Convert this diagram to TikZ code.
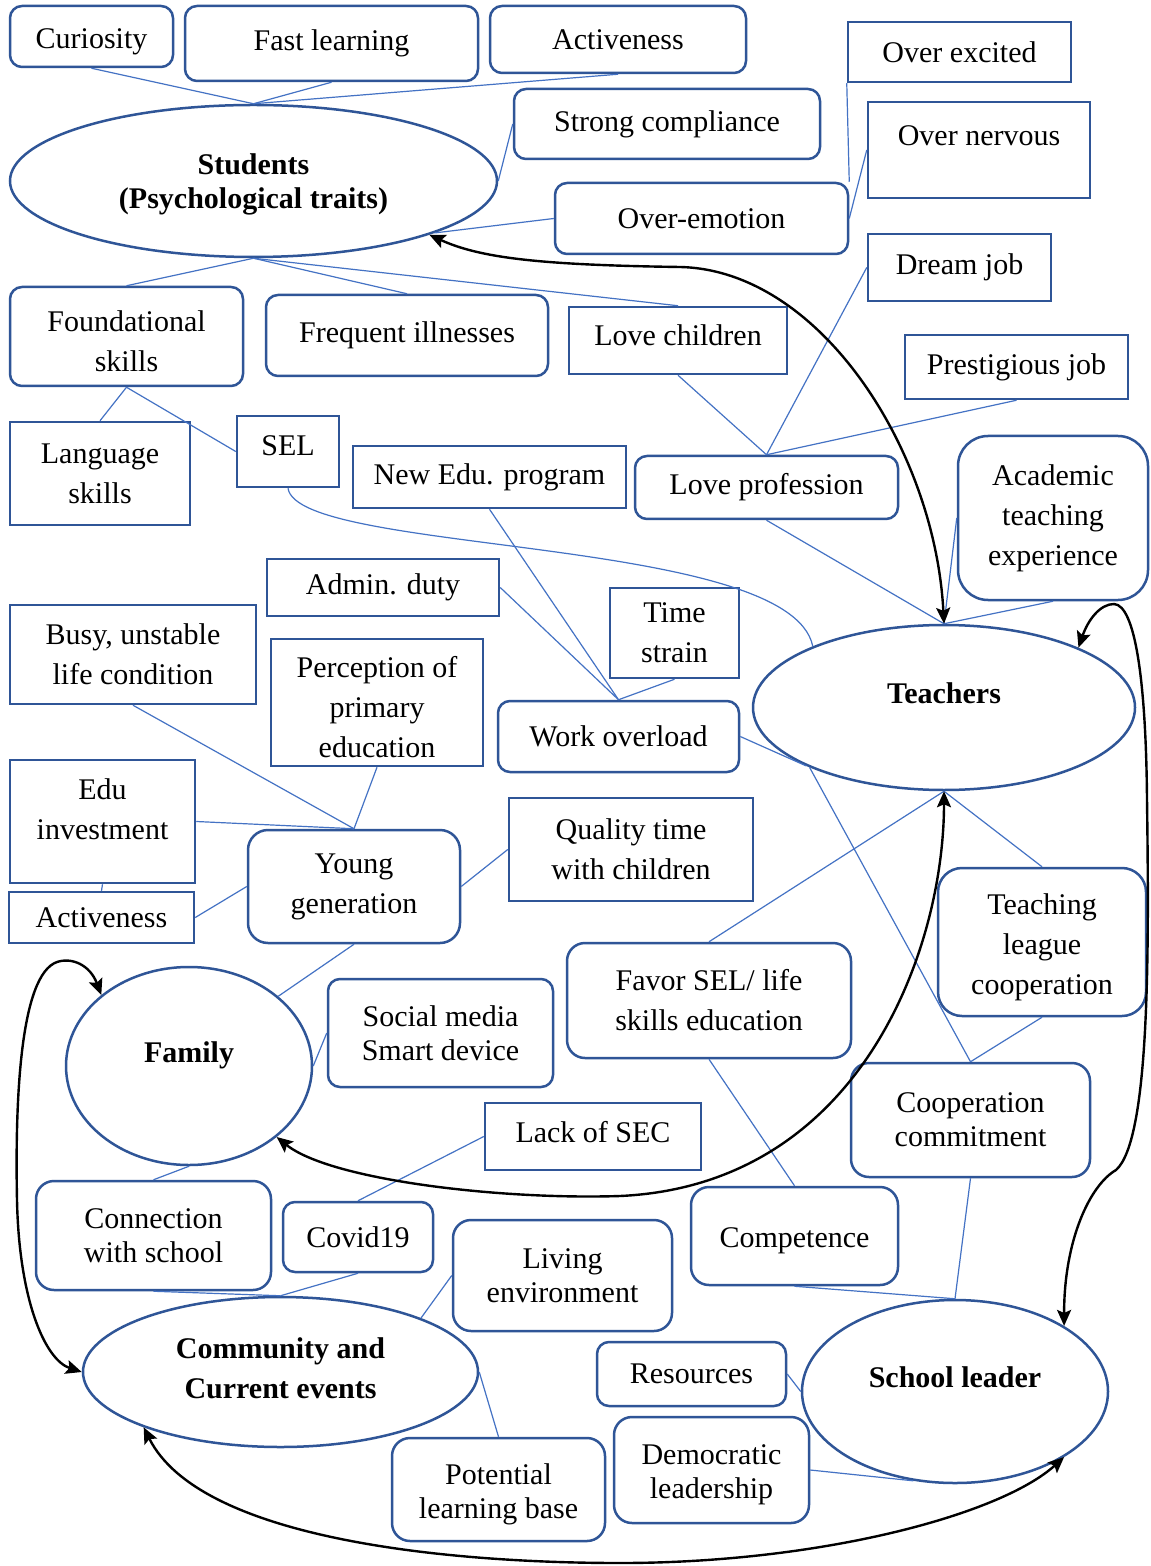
\documentclass[tikz,border=0pt]{standalone}
\usepackage{fontspec}
\setmainfont{Liberation Serif}
\usetikzlibrary{shapes.geometric,arrows.meta}
\definecolor{boxblue}{HTML}{2F5597}
\definecolor{linkblue}{HTML}{4472C4}

% invisible struts that push a label down (taller first line) or up (deeper last line)
\newcommand\padtop[1]{\rule{0pt}{#1}}
\newcommand\padbot[1]{\rule[-#1]{0pt}{#1}}

\tikzset{
  % place a node by its corner coordinates (x1,y1) (x2,y2), 1 unit = 0.5pt
  boxat/.style n args={4}{at={({(#1+#3)/2},{(#2+#4)/2})},
    minimum width={(#3-#1)*0.5pt}, minimum height={(#4-#2)*0.5pt}},
  boxbase/.style={draw=boxblue, line width=1.25pt, inner sep=0pt, align=center,
    font=\fontsize{15}{20}\selectfont},
  sqbox/.style={boxbase},
  rbox/.style={boxbase, rounded corners=6pt},
  tightlines/.style={font=\fontsize{15}{17}\selectfont},
  hub/.style={draw=boxblue, line width=1.25pt, ellipse, inner sep=0pt, align=center,
    font=\fontsize{15}{20}\selectfont\bfseries},
  link/.style={draw=linkblue, line width=0.6pt},
  tie/.style={draw=black, line width=1.2pt,
    arrows={Stealth[length=8pt,width=7pt,inset=1.5pt]-Stealth[length=8pt,width=7pt,inset=1.5pt]}}
}

\begin{document}
\begin{tikzpicture}[x=0.5pt,y=-0.5pt]
\fill[white] (0,0) rectangle (1150,1566);
\useasboundingbox (0,0) rectangle (1150,1566);

% ---------- central actors ----------
\node[hub, boxat={10}{105}{497}{257},
      font=\fontsize{15}{17}\selectfont\bfseries] (students) {\padtop{14pt}Students\\(Psychological traits)};
\node[hub, boxat={753}{625}{1135}{790}, text depth=14pt] (teachers) {Teachers};
\node[hub, boxat={66}{967}{312}{1165}, text depth=14.3pt] (family) {Family};
\node[hub, boxat={83}{1297}{478}{1447}] (community) {Community and\\Current events\padbot{4pt}};
\node[hub, boxat={802}{1300}{1108}{1483}, text depth=14pt] (leader) {School leader};

% ---------- student traits ----------
\node[rbox, boxat={10}{6}{173}{67}] (curiosity) {\padtop{15pt}Curiosity};
\node[rbox, boxat={185}{6}{478}{81}] (fastlearn) {Fast learning};
\node[rbox, boxat={490}{6}{746}{73}] (activetop) {Activeness};
\node[sqbox, boxat={848}{22}{1071}{82}] (overexcited) {Over excited};
\node[rbox, boxat={514}{89}{820}{159}] (compliance) {Strong compliance};
\node[sqbox, boxat={868}{102}{1090}{198}, text depth=14pt] (overnervous) {Over nervous};
\node[rbox, boxat={555}{183}{848}{254}] (overemotion) {Over-emotion};
\node[rbox, boxat={10}{287}{243}{386}] (foundation) {\padtop{15pt}Foundational\\skills};
\node[rbox, boxat={266}{295}{548}{376}] (illness) {Frequent illnesses};
\node[sqbox, boxat={10}{422}{190}{525}] (language) {Language\\skills};
\node[sqbox, boxat={237}{416}{339}{487}, text depth=6pt] (sel) {SEL};

% ---------- teacher factors ----------
\node[sqbox, boxat={868}{234}{1051}{301}] (dreamjob) {Dream job};
\node[sqbox, boxat={569}{307}{787}{374}, text depth=5pt] (lovechild) {Love children};
\node[sqbox, boxat={905}{335}{1128}{399}] (prestige) {Prestigious job};
\node[sqbox, boxat={353}{446}{626}{508}] (newedu) {New Edu. program};
\node[rbox, boxat={635}{456}{898}{519}] (loveprof) {Love profession};
\node[rbox, rounded corners=15pt, boxat={958}{436}{1148}{600}] (academic) {Academic\\teaching\\experience};
\node[sqbox, boxat={267}{559}{499}{616}] (admin) {Admin. duty};
\node[sqbox, boxat={610}{588}{739}{678}] (timestrain) {Time\\strain};
\node[rbox, boxat={498}{701}{739}{772}] (overload) {Work overload};
\node[rbox, rounded corners=12pt, boxat={938}{868}{1146}{1016}] (league) {\padtop{16pt}Teaching\\league\\cooperation};
\node[rbox, rounded corners=9pt, boxat={567}{943}{851}{1058}] (favor) {Favor SEL/ life\\skills education};
\node[rbox, rounded corners=9pt, tightlines, boxat={851}{1063}{1090}{1177}] (commit) {Cooperation\\commitment};

% ---------- family factors ----------
\node[sqbox, boxat={10}{605}{256}{704}] (busy) {Busy, unstable\\life condition};
\node[sqbox, boxat={271}{639}{483}{766}] (perception) {\padtop{15pt}Perception of\\primary\\education};
\node[sqbox, boxat={10}{760}{195}{883}, text depth=12pt] (eduinvest) {Edu\\investment};
\node[sqbox, boxat={9}{892}{194}{943}] (activelow) {Activeness};
\node[rbox, rounded corners=10pt, boxat={248}{830}{460}{943}] (young) {Young\\generation};
\node[sqbox, boxat={509}{798}{753}{901}] (quality) {Quality time\\with children};
\node[rbox, tightlines, boxat={328}{979}{553}{1087}] (social) {Social media\\Smart device};

% ---------- community and school leader factors ----------
\node[sqbox, boxat={485}{1103}{701}{1170}, text depth=5pt] (lacksec) {Lack of SEC};
\node[rbox, rounded corners=9pt, tightlines, boxat={36}{1181}{271}{1290}] (connect) {Connection\\with school};
\node[rbox, boxat={283}{1202}{433}{1272}] (covid) {Covid19};
\node[rbox, rounded corners=9pt, tightlines, boxat={453}{1220}{672}{1331}] (living) {Living\\environment};
\node[rbox, rounded corners=9pt, boxat={691}{1187}{898}{1285}] (competence) {\padtop{15pt}Competence};
\node[rbox, boxat={597}{1342}{786}{1406}] (resources) {Resources};
\node[rbox, rounded corners=9pt, tightlines, boxat={392}{1438}{605}{1541}] (potential) {\padtop{15pt}Potential\\learning base};
\node[rbox, rounded corners=9pt, tightlines, boxat={614}{1417}{809}{1523}] (democratic) {\padtop{15pt}Democratic\\leadership};

% ---------- thin links ----------
\draw[link] (curiosity.south) -- (students.north);
\draw[link] (fastlearn.south) -- (students.north);
\draw[link] (activetop.south) -- (students.north);
\draw[link] (compliance.west) -- (students.east);
\draw[link] (overemotion.west) -- (students.-16.5);
\draw[link] (students.south) -- (foundation.north);
\draw[link] (students.south) -- (illness.north);
\draw[link] (students.south) -- (lovechild.north);
\draw[link] (overexcited.south west) -- (overemotion.north east);
\draw[link] (overemotion.east) -- (overnervous.west);
\draw[link] (foundation.south) -- (language.north);
\draw[link] (foundation.south) -- (sel.west);

\draw[link] (lovechild.south) -- (loveprof.north);
\draw[link] (dreamjob.west) -- (loveprof.north);
\draw[link] (prestige.south) -- (loveprof.north);
\draw[link] (loveprof.south) -- (teachers.north);
\draw[link] (academic.west) -- (teachers.north);
\draw[link] (academic.south) -- (teachers.north);
\draw[link] (sel.south) .. controls (298,555) and (790,535) .. (teachers.155.9);
\draw[link] (newedu.south) -- (overload.north);
\draw[link] (admin.east) -- (overload.north);
\draw[link] (timestrain.south) -- (overload.north);
\draw[link] (overload.east) -- (teachers.-157.2);
\draw[link] (commit.north) -- (teachers.-156.4);
\draw[link] (teachers.south) -- (favor.north);
\draw[link] (teachers.south) -- (league.north);
\draw[link] (league.south) -- (commit.north);

\draw[link] (busy.south) -- (young.north);
\draw[link] (perception.south) -- (young.north);
\draw[link] (eduinvest.east) -- (young.north);
\draw[link] (eduinvest.south) -- (activelow.north);
\draw[link] (activelow.east) -- (young.west);
\draw[link] (young.east) -- (quality.west);
\draw[link] (young.south) -- (family.38.6);
\draw[link] (social.west) -- (family.east);
\draw[link] (family.south) -- (connect.north);

\draw[link] (lacksec.west) -- (covid.north);
\draw[link] (covid.south) -- (community.north);
\draw[link] (connect.south) -- (community.north);
\draw[link] (living.west) -- (community.21);
\draw[link] (community.east) -- (potential.north);

\draw[link] (commit.south) -- (leader.north);
\draw[link] (favor.south) -- (competence.north);
\draw[link] (competence.south) -- (leader.north);
\draw[link] (resources.east) -- (leader.west);
\draw[link] (democratic.east) -- (leader.-115.6);

% ---------- mutual influences between actors ----------
\draw[tie] (students.-17.5) .. controls (480,258) and (540,265) .. (680,267)
           .. controls (820,270) and (935,450) .. (teachers.north);
\draw[tie] (family.-39) .. controls (330,1180) and (500,1200) .. (620,1196)
           .. controls (860,1185) and (944,950) .. (teachers.south);
\draw[tie] (family.141) .. controls (90,965) and (72,957) .. (57,962)
           .. controls (20,975) and (15,1100) .. (17,1200)
           .. controls (19,1300) and (45,1360) .. (community.west);
\draw[tie] (teachers.24) .. controls (1088,620) and (1100,604) .. (1114,604)
           .. controls (1135,605) and (1146,680) .. (1147,800)
           .. controls (1149,950) and (1150,1140) .. (1116,1170)
           .. controls (1090,1185) and (1064,1240) .. (leader.31.4);
\draw[tie] (community.-158.5) .. controls (200,1540) and (450,1563) .. (620,1563)
           .. controls (820,1563) and (1000,1515) .. (leader.-31.4);
\end{tikzpicture}
\end{document}
